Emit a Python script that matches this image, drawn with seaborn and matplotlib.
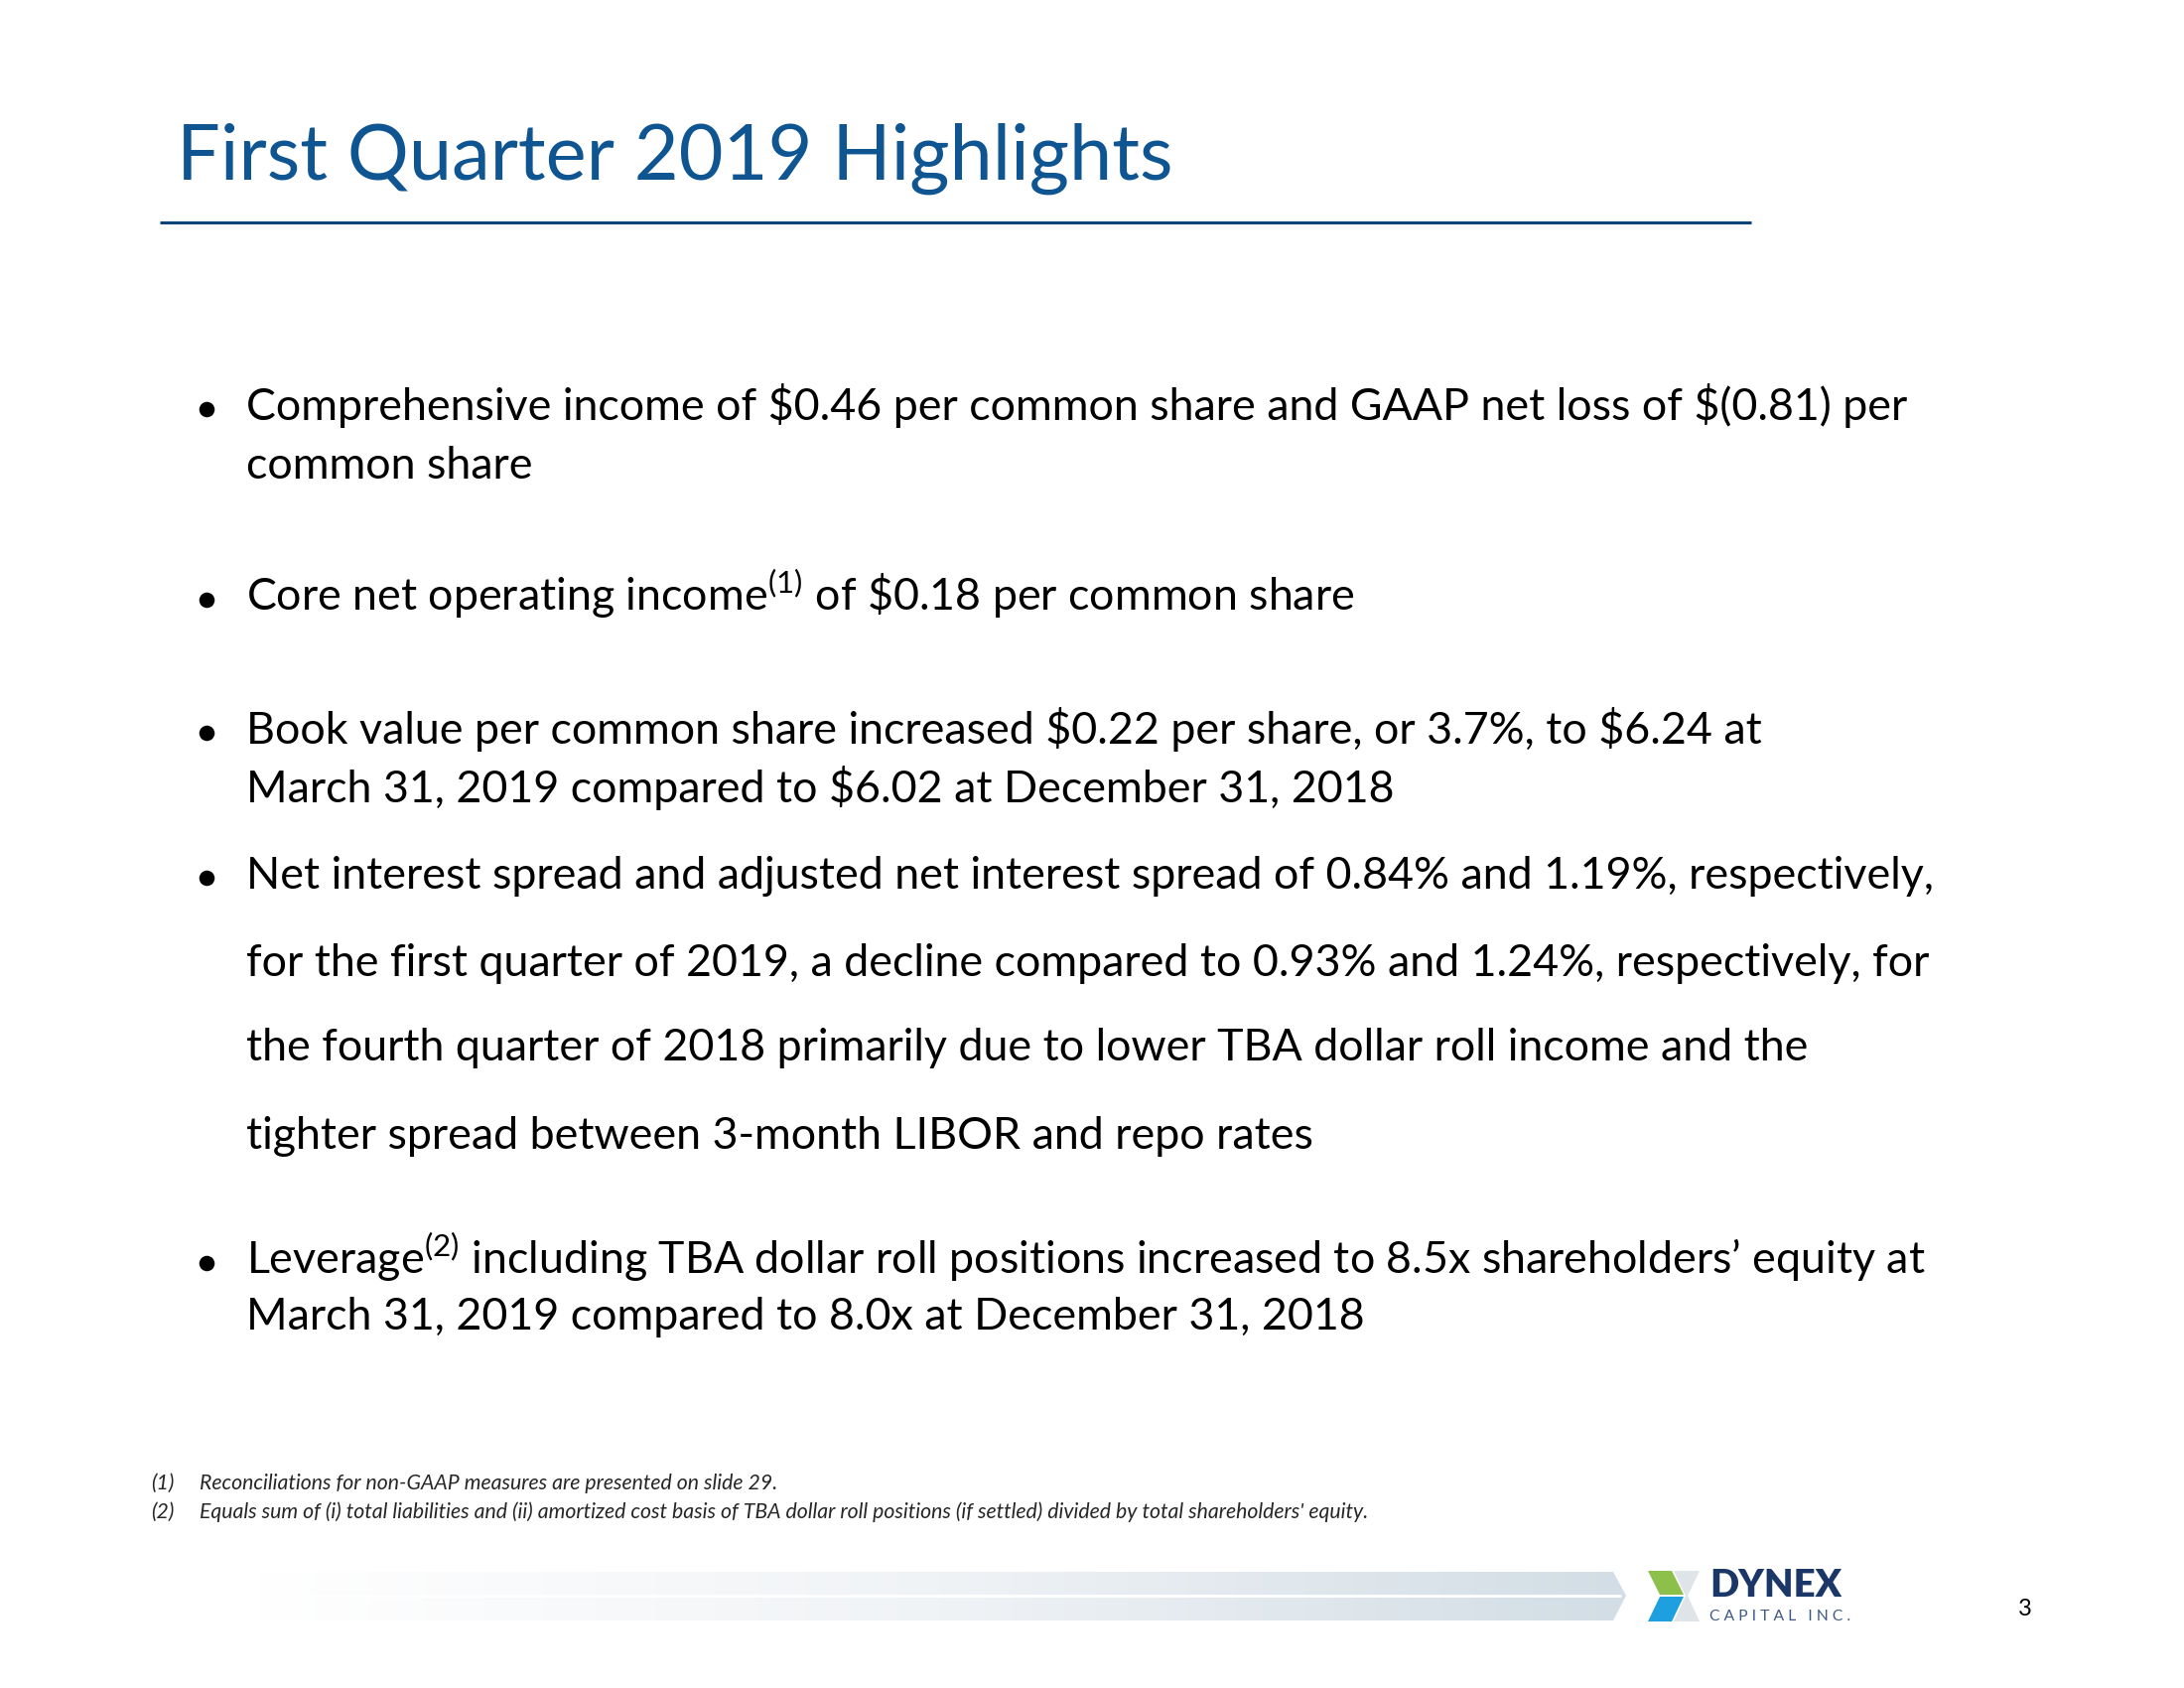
import numpy as np
import matplotlib
import matplotlib.pyplot as plt
import seaborn as sns
from matplotlib.colors import LinearSegmentedColormap

# Slide content
title = "First Quarter 2019 Highlights"
bullet_1 = ["Comprehensive income of \\$0.46 per common share and GAAP net loss of \\$(0.81) per",
            "common share"]
bullet_2 = ["Core net operating income$^{\\rm (1)}$ of \\$0.18 per common share"]
bullet_3 = ["Book value per common share increased \\$0.22 per share, or 3.7%, to \\$6.24 at",
            "March 31, 2019 compared to \\$6.02 at December 31, 2018"]
bullet_4 = ["Net interest spread and adjusted net interest spread of 0.84% and 1.19%, respectively,",
            "for the first quarter of 2019, a decline compared to 0.93% and 1.24%, respectively, for",
            "the fourth quarter of 2018 primarily due to lower TBA dollar roll income and the",
            "tighter spread between 3-month LIBOR and repo rates"]
bullet_5 = ["Leverage$^{\\rm (2)}$ including TBA dollar roll positions increased to 8.5x shareholders\u2019 equity at",
            "March 31, 2019 compared to 8.0x at December 31, 2018"]
bullets = [bullet_1, bullet_2, bullet_3, bullet_4, bullet_5]
footnote_marks = ["(1)", "(2)"]
footnotes = ["Reconciliations for non-GAAP measures are presented on slide 29.",
             "Equals sum of (i) total liabilities and (ii) amortized cost basis of TBA dollar roll positions (if settled) divided by total shareholders' equity."]
company = "DYNEX"
company_sub = "C A P I T A L   I N C ."
page_number = "3"

sns.set_theme(style="white")
plt.rcParams['font.family'] = ['Lato', 'DejaVu Sans']
plt.rcParams['mathtext.fontset'] = 'custom'
plt.rcParams['mathtext.rm'] = 'Lato'

fig = plt.figure(figsize=(22, 17), dpi=100)
ax = fig.add_axes([0, 0, 1, 1])
renderer = fig.canvas.get_renderer()


def fit(txt, width):
    # scale the font so the text spans the wanted pixel width
    w = txt.get_window_extent(renderer).width
    txt.set_fontsize(txt.get_fontsize() * width / w)
    return txt.get_fontsize()


# title and rule
t = ax.text(178, 181, title, color="#0f5592", fontsize=60, va="baseline")
fit(t, 1005)
ax.plot([161, 1764], [224, 224], color="#0c4478", lw=2.2, solid_capstyle="butt")

# body text
baselines = [[423, 482], [615], [749, 808], [895, 983, 1068, 1157], [1283, 1339]]
probe = ax.text(248, 0, bullet_1[0], fontsize=30, va="baseline")
body_size = fit(probe, 1673)
probe.remove()

dot_y = []
for lines, ys in zip(bullets, baselines):
    for line, y in zip(lines, ys):
        ax.text(248, y, line, fontsize=body_size, color="black", va="baseline")
    dot_y.append(ys[0] - 11)
sns.scatterplot(x=[208] * len(dot_y), y=dot_y, ax=ax, color="black", s=125, linewidth=0, zorder=3)

# footnotes
fn_probe = ax.text(201, 0, footnotes[1], fontsize=12, style="italic", va="baseline")
fn_size = fit(fn_probe, 1177)
fn_probe.remove()
for mark, note, y in zip(footnote_marks, footnotes, [1500, 1529]):
    ax.text(152, y, mark, fontsize=fn_size, style="italic", va="baseline")
    ax.text(201, y, note, fontsize=fn_size, style="italic", va="baseline")

# bottom gradient band with arrow tip
cmap = LinearSegmentedColormap.from_list("band", ["#ffffff", "#f0f3f6", "#d2dde5"])
im = ax.imshow(np.linspace(0, 1, 256)[None, :], extent=[255, 1640, 1632, 1583],
               cmap=cmap, aspect="auto", zorder=1)
band = plt.Polygon([(255, 1583), (1625, 1583), (1638, 1607), (1625, 1632), (255, 1632)],
                   facecolor="none", edgecolor="none")
ax.add_patch(band)
im.set_clip_path(band)
ax.plot([255, 1632], [1607, 1607], color="white", lw=2, zorder=2)

# logo
ax.add_patch(plt.Polygon([(1660, 1582), (1684, 1582), (1696, 1606), (1672, 1606)], color="#8cc04b", lw=0))
ax.add_patch(plt.Polygon([(1672, 1608), (1696, 1608), (1684, 1633), (1660, 1633)], color="#1ea0e0", lw=0))
ax.add_patch(plt.Polygon([(1686, 1582), (1712, 1582), (1700, 1607), (1712, 1633), (1686, 1633), (1698, 1607)],
                         color="#dfe4e8", lw=0))
d = ax.text(1722, 1608, company, color="#1b3768", fontweight="heavy", fontsize=24, va="baseline")
fit(d, 133)
c = ax.text(1722, 1632, company_sub, color="#3e5a84", fontsize=10, va="baseline")
fit(c, 141)
ax.text(2033, 1627, page_number, fontsize=17, color="black", va="baseline")

ax.set_xlim(0, 2200)
ax.set_ylim(1700, 0)
ax.axis("off")
fig.savefig("out.png", dpi=100, facecolor="white")
